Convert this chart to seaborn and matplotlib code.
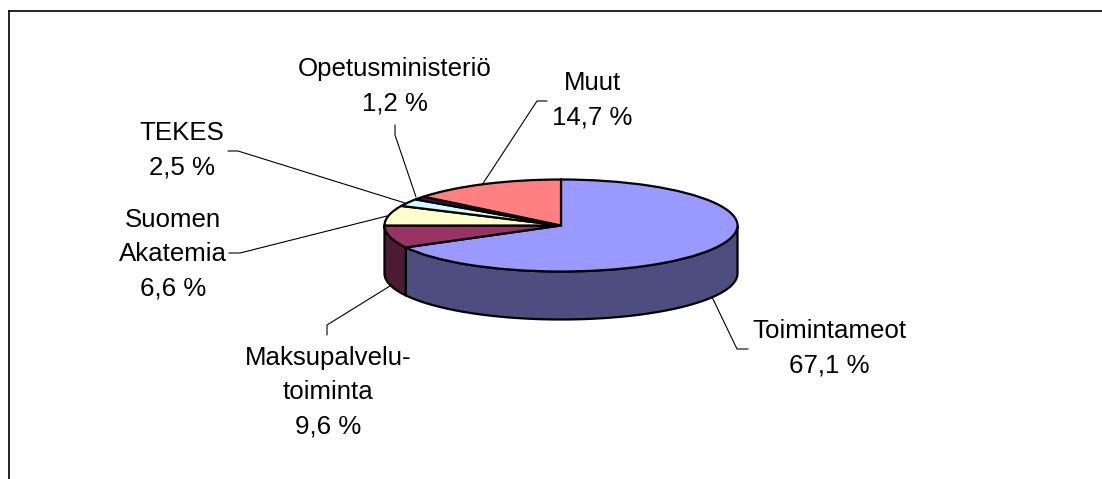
import numpy as np
import matplotlib
matplotlib.use("Agg")
import matplotlib.pyplot as plt
import seaborn as sns

# label text as printed on the chart
labels = ['Toimintameot\n67,1 %', 'Maksupalvelu-\ntoiminta\n9,6 %', 'Suomen\nAkatemia\n6,6 %',
          'TEKES\n2,5 %', 'Opetusministeriö\n1,2 %', 'Muut\n14,7 %']
# slice sizes as drawn (measured from the rim, they differ a bit from the printed numbers)
shares = [67.1, 7.9, 7.0, 2.6, 1.2, 14.2]
top_colors = ['#9999FF', '#993366', '#FFFFCC', '#CCFFFF', '#660066', '#FF8080']

sns.set_theme(style="white")
plt.rcParams['font.family'] = ['Liberation Sans', 'DejaVu Sans']

W, H = 1102, 479
fig = plt.figure(figsize=(W / 100, H / 100), dpi=100, facecolor='white')

# pie axes: one data unit is the ellipse radius, so the circle gets squashed
cx, cy, rx, ry, depth = 561, 225.5, 176.5, 46, 48
ax = fig.add_axes([0, 0, 1, 1])
palette = sns.color_palette(top_colors)
ax.pie(shares, colors=palette, startangle=90, counterclock=False, normalize=True,
       wedgeprops={'edgecolor': 'black', 'linewidth': 1.6})
ax.set_aspect('auto')
ax.set_xlim(-cx / rx, (W - cx) / rx)
ax.set_ylim((cy - H) / ry, cy / ry)
ax.axis('off')

# side walls, only the front half of the rim shows
edges = np.cumsum([0] + shares) / sum(shares)
for i in range(len(shares)):
    lo, hi = max(edges[i], 0.25), min(edges[i + 1], 0.75)
    if hi <= lo:
        continue
    t = np.radians(90 - 360 * np.linspace(lo, hi, 120))
    x, y = np.cos(t), np.sin(t)
    side = [c * 0.5 for c in palette[i]]
    ax.fill(np.r_[x, x[::-1]], np.r_[y, y[::-1] - depth / ry], facecolor=side,
            edgecolor='black', linewidth=1.6, zorder=0.5)

# overlay in picture pixels for the frame, the labels and the leader lines
over = fig.add_axes([9 / W, 0, 1 - 9 / W, 1 - 11 / H])
over.set_xlim(9, W)
over.set_ylim(H, 11)
over.patch.set_alpha(0)
over.set_xticks([])
over.set_yticks([])
sns.despine(ax=over, top=False, left=False, right=True, bottom=True)
for s in ['left', 'top']:
    over.spines[s].set_color('black')
    over.spines[s].set_linewidth(1.2)

label_pos = [(829, 348), (328, 392), (173, 254), (182, 150), (395, 86), (592, 100)]
for txt, (lx, ly) in zip(labels, label_pos):
    over.text(lx, ly, txt, ha='center', va='center', fontsize=18.6, color='black',
              linespacing=1.53)

leaders = [
    ([748, 737, 712], [349, 349, 297]),
    ([327, 327, 390], [335, 325, 286]),
    ([229, 240, 387], [253, 253, 216]),
    ([228, 238, 405], [151, 151, 203]),
    ([395, 395, 416], [125, 135, 197]),
    ([547, 537, 482], [101, 101, 185]),
]
for lx, ly in leaders:
    over.plot(lx, ly, color='black', linewidth=0.8, solid_joinstyle='miter')

fig.savefig('out.png', dpi=100)
